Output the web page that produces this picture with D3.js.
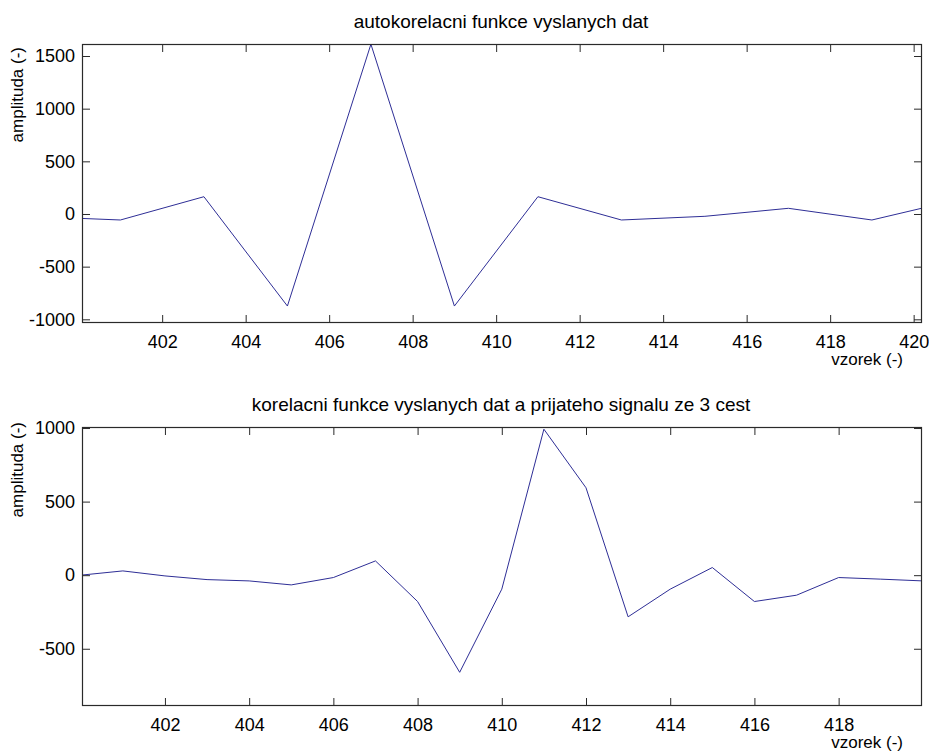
<!DOCTYPE html>
<html>
<head>
<meta charset="utf-8">
<script src="https://cdn.jsdelivr.net/npm/d3@7"></script>
<style>
  html, body { margin: 0; padding: 0; background: #fff; }
  svg { display: block; }
  text { font-family: "Liberation Sans", Arial, sans-serif; fill: #000; }
</style>
</head>
<body>
<svg id="chart" width="929" height="751"></svg>
<script>
// ---- data ----
const topTitle = "autokorelacni funkce vyslanych dat";
const topSamples = [399, 401, 403, 405, 407, 409, 411, 413, 415, 417, 419, 421];
const topValues  = [-25, -57, 164, -874, 1612, -874, 164, -57, -22, 54, -57, 130];
const topXTicks = [402, 404, 406, 408, 410, 412, 414, 416, 418, 420];
const topYTicks = [-1000, -500, 0, 500, 1000, 1500];
const topXDomain = [400.08, 420.2];
const topYDomain = [-1035, 1614];

const botTitle = "korelacni funkce vyslanych dat a prijateho signalu ze 3 cest";
const botSamples = [400, 401, 402, 403, 404, 405, 406, 407, 408, 409, 410,
                    411, 412, 413, 414, 415, 416, 417, 418, 419, 420];
const botValues  = [0, 29, -5, -30, -39, -66, -16, 97, -179, -660, -95,
                    992, 594, -283, -95, 52, -179, -136, -16, -27, -39];
const botXTicks = [402, 404, 406, 408, 410, 412, 414, 416, 418];
const botYTicks = [-500, 0, 500, 1000];
const botXDomain = [400.03, 419.98];
const botYDomain = [-889, 1007];

const xLabel = "vzorek (-)";
const yLabel = "amplituda (-)";

// ---- drawing ----
const svg = d3.select("#chart");
svg.append("rect").attr("width", 929).attr("height", 751).attr("fill", "#fff");

function panel(cfg) {
  const x = d3.scaleLinear().domain(cfg.xDomain).range([cfg.left, cfg.right]);
  const y = d3.scaleLinear().domain(cfg.yDomain).range([cfg.bottom, cfg.top]);
  const g = svg.append("g");
  const tickLen = 8;
  const axisColor = "#2a2a2a";

  const clipId = "clip" + cfg.id;
  svg.append("clipPath").attr("id", clipId)
    .append("rect")
    .attr("x", cfg.left).attr("y", cfg.top)
    .attr("width", cfg.right - cfg.left).attr("height", cfg.bottom - cfg.top);

  // data line
  const pts = cfg.xs.map((d, i) => [d, cfg.ys[i]]);
  g.append("path")
    .datum(pts)
    .attr("clip-path", `url(#${clipId})`)
    .attr("fill", "none")
    .attr("stroke", "#2e2e96")
    .attr("stroke-width", 1)
    .attr("d", d3.line().x(d => x(d[0])).y(d => y(d[1])));

  // axes
  const fmt = d => String(d);
  const bottomAx = g.append("g").attr("transform", `translate(0,${cfg.bottom})`)
    .call(d3.axisBottom(x).tickValues(cfg.xTicks).tickFormat(fmt)
      .tickSizeInner(-tickLen).tickSizeOuter(0).tickPadding(12));
  const topAx = g.append("g").attr("transform", `translate(0,${cfg.top})`)
    .call(d3.axisTop(x).tickValues(cfg.xTicks).tickFormat("")
      .tickSizeInner(-tickLen).tickSizeOuter(0));
  const leftAx = g.append("g").attr("transform", `translate(${cfg.left},0)`)
    .call(d3.axisLeft(y).tickValues(cfg.yTicks).tickFormat(fmt)
      .tickSizeInner(-tickLen).tickSizeOuter(0).tickPadding(7));
  const rightAx = g.append("g").attr("transform", `translate(${cfg.right},0)`)
    .call(d3.axisRight(y).tickValues(cfg.yTicks).tickFormat("")
      .tickSizeInner(-tickLen).tickSizeOuter(0));

  [bottomAx, topAx, leftAx, rightAx].forEach(a => {
    a.select(".domain").remove();
    a.selectAll(".tick line").attr("stroke", axisColor);
    a.selectAll(".tick text")
      .style("font-family", '"Liberation Sans", Arial, sans-serif')
      .style("font-size", "18px").attr("fill", "#000");
  });

  g.append("rect")
    .attr("x", cfg.left + 0.5).attr("y", cfg.top + 0.5)
    .attr("width", cfg.right - cfg.left - 1).attr("height", cfg.bottom - cfg.top - 1)
    .attr("fill", "none").attr("stroke", axisColor).attr("stroke-width", 1.2);

  // title
  g.append("text")
    .attr("x", (cfg.left + cfg.right) / 2 - 1)
    .attr("y", cfg.titleY)
    .attr("text-anchor", "middle")
    .style("font-size", "19px")
    .text(cfg.title);

  // x label
  g.append("text")
    .attr("x", cfg.right - 19)
    .attr("y", cfg.xLabelY)
    .attr("text-anchor", "end")
    .style("font-size", "17px")
    .text(xLabel);

  // y label
  g.append("text")
    .attr("transform", `translate(23,${cfg.top + cfg.yLabelOffset}) rotate(-90)`)
    .attr("text-anchor", "end")
    .style("font-size", "17px")
    .text(yLabel);
}

panel({
  id: 1, left: 82, right: 922, top: 44, bottom: 323,
  xDomain: topXDomain, yDomain: topYDomain,
  xs: topSamples, ys: topValues,
  xTicks: topXTicks, yTicks: topYTicks,
  title: topTitle, titleY: 28, xLabelY: 365, yLabelOffset: 3
});

panel({
  id: 2, left: 82, right: 922, top: 427, bottom: 706,
  xDomain: botXDomain, yDomain: botYDomain,
  xs: botSamples, ys: botValues,
  xTicks: botXTicks, yTicks: botYTicks,
  title: botTitle, titleY: 411, xLabelY: 748, yLabelOffset: -5
});
</script>
</body>
</html>
